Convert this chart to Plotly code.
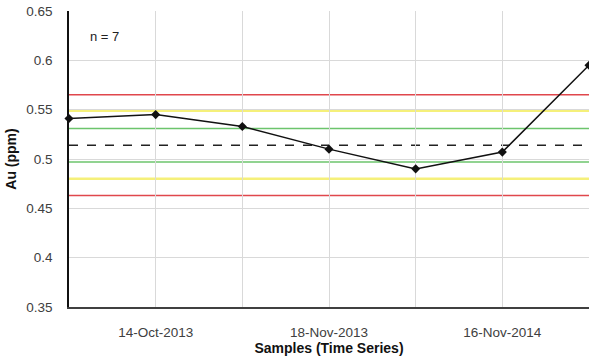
import plotly.graph_objects as go

# Data
sample_labels = ["", "14-Oct-2013", "", "18-Nov-2013", "", "16-Nov-2014", ""]
au_ppm = [0.541, 0.545, 0.533, 0.510, 0.490, 0.507, 0.595]

mean_level = 0.514
sd1_levels = [0.531, 0.497]
sd2_levels = [0.549, 0.480]
sd3_levels = [0.565, 0.463]

x_idx = list(range(len(au_ppm)))

fig = go.Figure()
fig.add_trace(go.Scatter(
    x=x_idx, y=au_ppm, mode="lines+markers",
    line=dict(color="#111111", width=1.5),
    marker=dict(symbol="diamond", size=7, color="#111111"),
    cliponaxis=False, showlegend=False,
))

shapes = []
def hline(level, color, width, dash="solid"):
    shapes.append(dict(type="line", xref="paper", x0=0, x1=1, yref="y",
                       y0=level, y1=level, layer="below",
                       line=dict(color=color, width=width, dash=dash)))

for lv in sd3_levels:
    hline(lv, "#e0474c", 1.5)
for lv in sd2_levels:
    hline(lv, "#f5f07a", 2.5)
for lv in sd1_levels:
    hline(lv, "#6cc46c", 1.5)
hline(mean_level, "#222222", 1.5, dash="dash")

fig.update_layout(
    width=589, height=360,
    margin=dict(l=69, r=0, t=11, b=53, autoexpand=False),
    paper_bgcolor="white", plot_bgcolor="white",
    font=dict(family="Liberation Sans, Arial, sans-serif", size=13.5, color="#404040"),
    shapes=shapes,
    annotations=[dict(text="n = 7", xref="paper", yref="paper", x=0.036, y=0.915,
                      xanchor="left", yanchor="middle", showarrow=False,
                      font=dict(size=13, color="#222222"))],
)
fig.update_xaxes(
    range=[0, 6], tickmode="array", tickvals=x_idx, ticktext=sample_labels,
    showgrid=True, gridcolor="#d9d9d9", gridwidth=1,
    showline=True, linecolor="#404040", linewidth=2,
    ticks="", ticklabelstandoff=12, zeroline=False, automargin=False,
    title=dict(text="<b>Samples (Time Series)</b>", standoff=4,
               font=dict(size=14, color="#111111")),
)
fig.update_yaxes(
    range=[0.35, 0.65],
    tickvals=[0.35, 0.4, 0.45, 0.5, 0.55, 0.6, 0.65],
    ticktext=["0.35", "0.4", "0.45", "0.5", "0.55", "0.6", "0.65"],
    showgrid=True, gridcolor="#d9d9d9", gridwidth=1,
    showline=True, linecolor="#111111", linewidth=1.5,
    ticks="", ticklabelstandoff=12, zeroline=False, automargin=False,
    title=dict(text="<b>Au (ppm)</b>", standoff=6,
               font=dict(size=14, color="#111111")),
)

fig.write_html("out.html", config={"displayModeBar": False})

with open("out.html", "r", encoding="utf-8") as f:
    html = f.read()
html = html.replace("<body>", "<body style=\"margin:0;padding:0;\">", 1)
with open("out.html", "w", encoding="utf-8") as f:
    f.write(html)
